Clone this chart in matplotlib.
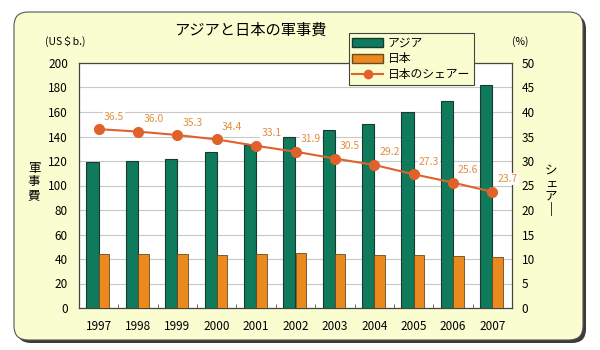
import matplotlib
matplotlib.use("Agg")
import matplotlib.pyplot as plt
from matplotlib.patches import FancyBboxPatch, Patch
from matplotlib.lines import Line2D
import numpy as np

plt.rcParams['font.family'] = ['Noto Sans CJK JP', 'DejaVu Sans']

years = ['1997', '1998', '1999', '2000', '2001', '2002', '2003', '2004', '2005', '2006', '2007']
asia = [119, 120, 122, 127, 133, 140, 145, 150, 160, 169, 182]
japan = [44, 44, 44, 43.5, 44, 44.5, 44, 43.5, 43.5, 42.5, 42]
share = [36.5, 36.0, 35.3, 34.4, 33.1, 31.9, 30.5, 29.2, 27.3, 25.6, 23.7]

green = '#0f7a5c'
orange = '#ea8a1e'
line_c = '#e0622a'
label_c = '#e09040'
bg = '#fafdd0'

fig = plt.figure(figsize=(6, 3.5), dpi=100)
fig.patch.set_facecolor('white')

# background panel in pixel coordinates
bgax = fig.add_axes([0, 0, 1, 1])
bgax.set_xlim(0, 600)
bgax.set_ylim(350, 0)
bgax.axis('off')
shadow = FancyBboxPatch((17, 15), 569, 328, boxstyle='round,pad=0,rounding_size=14',
                        facecolor='#3a3a3a', edgecolor='none', zorder=0)
bgax.add_patch(shadow)
panel = FancyBboxPatch((14, 12), 569, 328, boxstyle='round,pad=0,rounding_size=14',
                       facecolor=bg, edgecolor='#555555', linewidth=0.8, zorder=1)
bgax.add_patch(panel)

ax = fig.add_axes([79/600, 1-308/350, (512-79)/600, (308-63)/350])
ax.set_facecolor('white')
x = np.arange(len(years))
w1, w2 = 0.31, 0.27
ax.bar(x - w1/2, asia, width=w1, color=green, edgecolor='#1a3a30', linewidth=0.8, zorder=3)
ax.bar(x + w2/2, japan, width=w2, color=orange, edgecolor='#6a4a20', linewidth=0.6, zorder=3)
ax.set_ylim(0, 200)
ax.set_xlim(-0.5, len(years) - 0.5)
ax.set_yticks(range(0, 201, 20))
ax.yaxis.grid(True, color='#c8c8c8', linewidth=0.8, zorder=0)
ax.set_axisbelow(True)
ax.set_xticks(x)
ax.set_xticklabels(years)
ax.set_xticks(x[:-1] + 0.5, minor=True)
ax.tick_params(axis='x', which='major', length=0, pad=9, labelsize=8.5)
ax.tick_params(axis='x', which='minor', length=3, direction='in', color='#555555')
ax.tick_params(axis='y', length=0, pad=8, labelsize=8.5)
for s in ['left', 'bottom', 'right', 'top']:
    ax.spines[s].set_color('#444444')
    ax.spines[s].set_linewidth(0.9)

ax2 = ax.twinx()
ax2.plot(x, share, color=line_c, linewidth=1.5, marker='o', markersize=7, zorder=5)
ax2.set_ylim(0, 50)
ax2.set_yticks(range(0, 51, 5))
ax2.tick_params(axis='y', length=0, pad=7, labelsize=8.5)
for s in ['left', 'bottom', 'right', 'top']:
    ax2.spines[s].set_visible(False)
for xi, v in zip(x, share):
    ax2.annotate(f'{v:.1f}', (xi, v), xytext=(11, 9), textcoords='offset points',
                 ha='center', va='center', color=label_c, fontsize=7.5,
                 bbox=dict(boxstyle='square,pad=0.1', facecolor='white', edgecolor='none'))

# texts
fig.text(250/600, 1-30/350, 'アジアと日本の軍事費', ha='center', va='center', fontsize=11)
fig.text(65/600, 1-41/350, '(US＄b.)', ha='center', va='center', fontsize=7.5)
fig.text(520/600, 1-42/350, '(%)', ha='center', va='center', fontsize=7.5)
fig.text(34/600, 1-182/350, '軍\n事\n費', ha='center', va='center', fontsize=9, linespacing=1.05)
fig.text(551/600, 1-190/350, 'シ\nェ\nア\n|', ha='center', va='center', fontsize=9, linespacing=1.0)

# legend
handles = [Patch(facecolor=green, edgecolor='#1a3a30'),
           Patch(facecolor=orange, edgecolor='#6a4a20'),
           Line2D([0], [0], color=line_c, marker='o', markersize=6, linewidth=1.5)]
leg = fig.legend(handles, ['アジア', '日本', '日本のシェアー'], loc='upper left',
                 bbox_to_anchor=(343/600, 1-27/350), fontsize=8.5, frameon=True,
                 fancybox=False, edgecolor='#444444', facecolor=bg, framealpha=1,
                 handlelength=2.6, handleheight=0.8, borderpad=0.3, labelspacing=0.25,
                 handletextpad=0.4)
leg.get_frame().set_linewidth(0.8)
leg.set_zorder(10)

fig.savefig('out.png', dpi=100)
